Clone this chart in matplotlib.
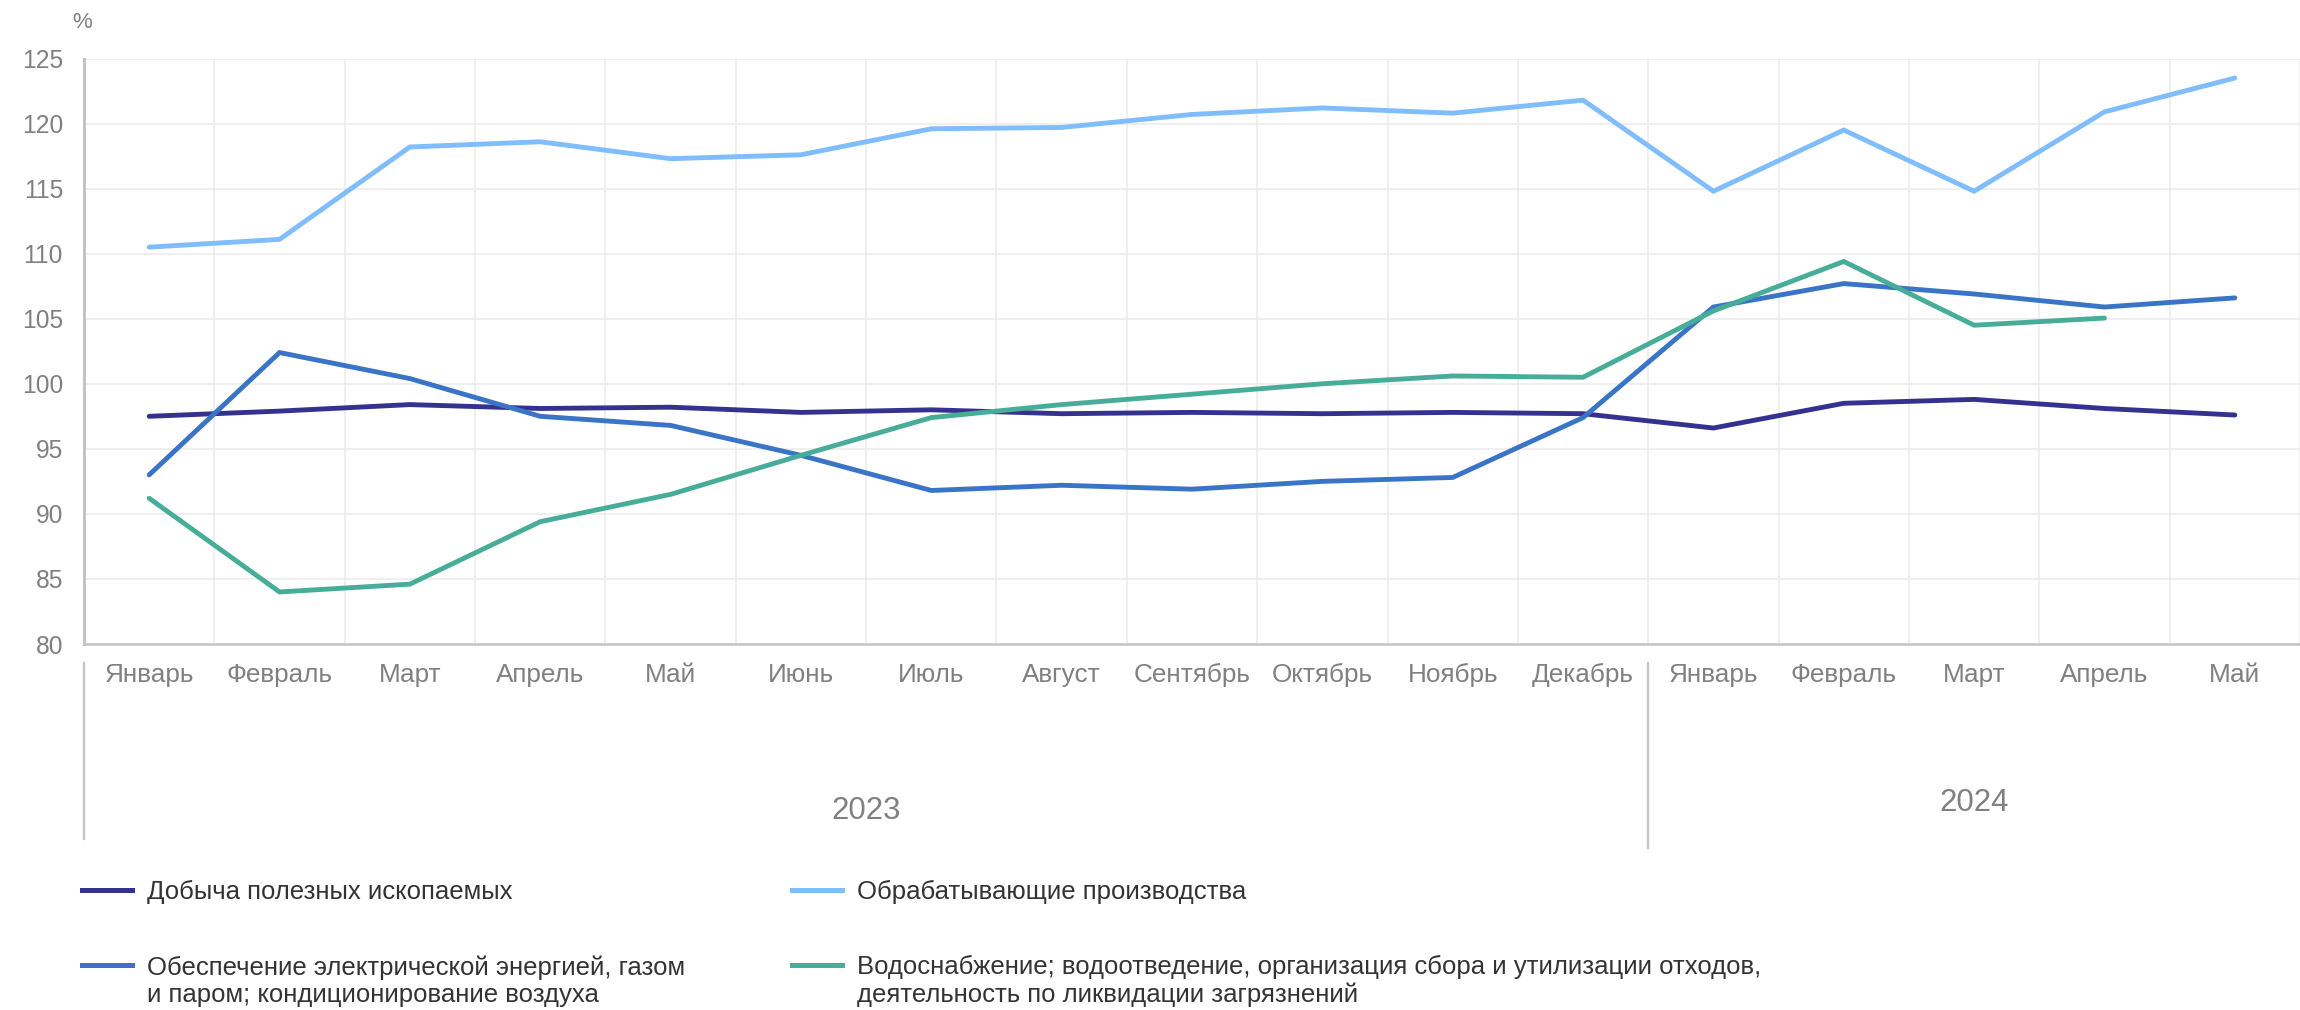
import matplotlib
matplotlib.use('Agg')
import matplotlib.pyplot as plt
import matplotlib.transforms as mtransforms
import numpy as np

plt.rcParams['font.family'] = ['Liberation Sans', 'DejaVu Sans']

months = ['Январь', 'Февраль', 'Март', 'Апрель', 'Май', 'Июнь', 'Июль', 'Август',
          'Сентябрь', 'Октябрь', 'Ноябрь', 'Декабрь',
          'Январь', 'Февраль', 'Март', 'Апрель', 'Май']
years = ['2023', '2024']
year_counts = [12, 5]

mining = [97.5, 97.9, 98.4, 98.1, 98.2, 97.8, 98.0, 97.7, 97.8, 97.7, 97.8, 97.7,
          96.6, 98.5, 98.8, 98.1, 97.6]
manufacturing = [110.5, 111.1, 118.2, 118.6, 117.3, 117.6, 119.6, 119.7, 120.7, 121.2, 120.8, 121.8,
                 114.8, 119.5, 114.8, 120.9, 123.5]
electricity = [93.0, 102.4, 100.4, 97.5, 96.8, 94.5, 91.8, 92.2, 91.9, 92.5, 92.8, 97.4,
               105.9, 107.7, 106.9, 105.9, 106.6]
water = [91.2, 84.0, 84.6, 89.4, 91.5, 94.5, 97.4, 98.4, 99.2, 100.0, 100.6, 100.5,
         105.6, 109.4, 104.5, 105.05, np.nan]

series = [
    ('Добыча полезных ископаемых', mining, '#35318f'),
    ('Обрабатывающие производства', manufacturing, '#80bdfc'),
    ('Обеспечение электрической энергией, газом\nи паром; кондиционирование воздуха', electricity, '#3a74c6'),
    ('Водоснабжение; водоотведение, организация сбора и утилизации отходов,\nдеятельность по ликвидации загрязнений', water, '#48ad98'),
]

W, H = 2300, 1010
fig = plt.figure(figsize=(W / 100, H / 100), dpi=100)
ax = fig.add_axes([84 / W, 1 - 644 / H, 1 - 84 / W, (644 - 58.5) / H])

x = np.arange(len(months))
for label, vals, color in series:
    ax.plot(x, vals, color=color, lw=3.5, solid_capstyle='round', solid_joinstyle='miter', zorder=3)

ax.set_xlim(-0.5, 16.38)
ax.set_ylim(80, 125)
ax.set_yticks(np.arange(80, 126, 5))
ax.set_xticks(x)
ax.set_xticklabels(months)
ax.set_xticks(np.arange(-0.5, 17, 1), minor=True)

ax.grid(axis='y', which='major', color='#ececec', lw=1.2, zorder=0)
ax.grid(axis='x', which='minor', color='#ececec', lw=1.2, zorder=0)
ax.grid(axis='x', which='major', visible=False)

for s in ['top', 'right']:
    ax.spines[s].set_visible(False)
ax.spines['left'].set_color('#c4c4c4')
ax.spines['left'].set_linewidth(2.2)
ax.spines['bottom'].set_color('#c4c4c4')
ax.spines['bottom'].set_linewidth(1.8)

ax.tick_params(axis='both', which='both', length=0, colors='#808080')
ax.tick_params(axis='x', labelsize=18.8, pad=14)
ax.tick_params(axis='y', labelsize=17.7, pad=15.2)

# percent sign
fig.text(72 / W, 1 - 22 / H, '%', fontsize=16, color='#808080', ha='left', va='center')

# year groups below the month labels
trans = mtransforms.blended_transform_factory(ax.transData, fig.transFigure)
start = -0.5
for yr, n, ybot, ylab in zip(years, year_counts, [839, 848], [811, 803]):
    ax.plot([start, start], [1 - 663 / H, 1 - ybot / H], color='#c4c4c4', lw=1.6,
            transform=trans, clip_on=False)
    ax.text(start + n / 2, 1 - ylab / H, yr, transform=trans, ha='center', va='center',
            fontsize=22.4, color='#808080')
    start += n

# legend
leg_pos = [(82, 890), (792, 890), (82, 965), (792, 965)]
for (label, vals, color), (lx, ly) in zip(series, leg_pos):
    yy = 1 - ly / H
    fig.add_artist(plt.Line2D([lx / W, (lx + 50) / W], [yy, yy], color=color, lw=3.6,
                              transform=fig.transFigure))
    fig.text((lx + 65) / W, yy + 10 / H, label, fontsize=18.5, color='#333333',
             ha='left', va='top', linespacing=1.17)

fig.savefig('out.png', dpi=100)
